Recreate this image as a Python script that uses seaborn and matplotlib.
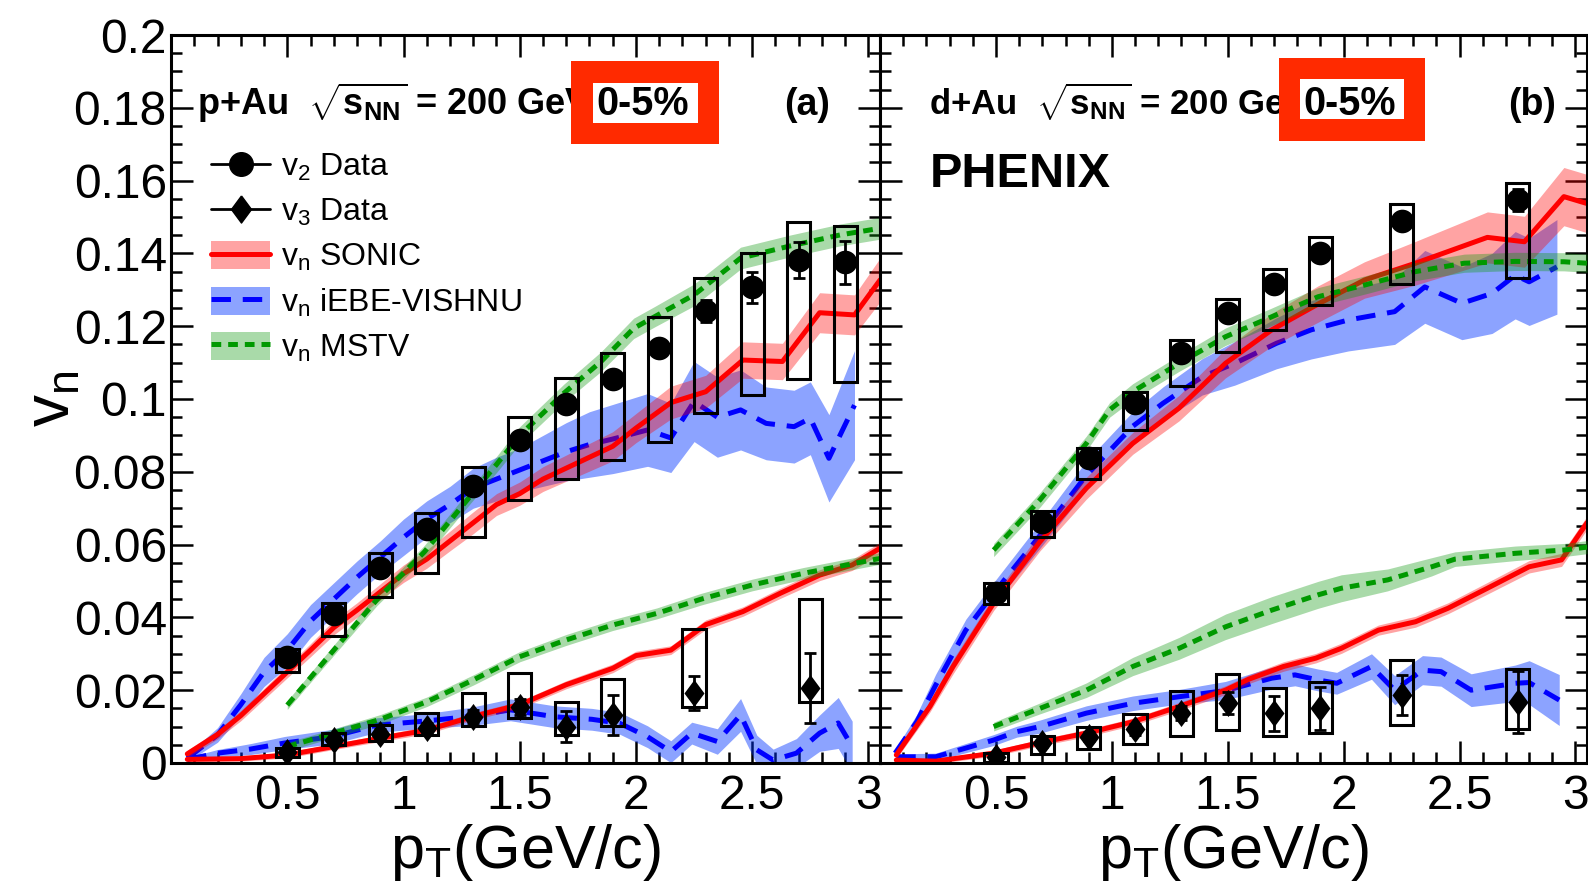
import numpy as np
import matplotlib
matplotlib.use("Agg")
import matplotlib.pyplot as plt
from matplotlib.patches import Patch, Rectangle
from matplotlib.lines import Line2D
from matplotlib.ticker import MultipleLocator, FuncFormatter
import seaborn as sns

# ---------------- p+Au 0-5% : PHENIX data ----------------
pau_v2_pt = [0.5, 0.7, 0.9, 1.1, 1.3, 1.5, 1.7, 1.9, 2.1, 2.3, 2.5, 2.7, 2.9]
pau_v2 = [0.0290, 0.0408, 0.0537, 0.0642, 0.0761, 0.0887, 0.0986, 0.1054, 0.1139, 0.1242, 0.1307, 0.1382, 0.1375]
pau_v2_stat = [0.0005, 0.0006, 0.0007, 0.0008, 0.0010, 0.0012, 0.0015, 0.0018, 0.0022, 0.0030, 0.0043, 0.0050, 0.0060]
pau_v2_sys_lo = [0.0250, 0.0349, 0.0456, 0.0523, 0.0621, 0.0722, 0.0780, 0.0832, 0.0881, 0.0961, 0.1011, 0.1054, 0.1048]
pau_v2_sys_hi = [0.0313, 0.0440, 0.0577, 0.0688, 0.0814, 0.0950, 0.1057, 0.1127, 0.1224, 0.1332, 0.1402, 0.1485, 0.1476]

pau_v3_pt = [0.5, 0.7, 0.9, 1.1, 1.3, 1.5, 1.7, 1.9, 2.25, 2.75]
pau_v3 = [0.0029, 0.0063, 0.0080, 0.0097, 0.0127, 0.0155, 0.0100, 0.0132, 0.0193, 0.0207]
pau_v3_stat = [0.0008, 0.0010, 0.0012, 0.0014, 0.0018, 0.0022, 0.0043, 0.0054, 0.0047, 0.0096]
pau_v3_sys_lo = [0.0017, 0.0049, 0.0060, 0.0077, 0.0102, 0.0123, 0.0077, 0.0102, 0.0153, 0.0167]
pau_v3_sys_hi = [0.0040, 0.0082, 0.0104, 0.0137, 0.0193, 0.0248, 0.0167, 0.0231, 0.0367, 0.0450]

# ---------------- p+Au 0-5% : model curves (value, band half-width) ----------------
pau_sonic_v2_pt = [0.07, 0.2, 0.3, 0.4, 0.5, 0.6, 0.7, 0.8, 0.9, 1.0, 1.1, 1.2, 1.3, 1.4, 1.5, 1.6, 1.7, 1.8, 1.9, 2.0, 2.15, 2.3, 2.46, 2.63, 2.79, 2.94, 3.05]
pau_sonic_v2 = [0.0025, 0.0078, 0.013, 0.019, 0.025, 0.031, 0.0372, 0.042, 0.047, 0.052, 0.056, 0.061, 0.066, 0.071, 0.074, 0.078, 0.081, 0.084, 0.087, 0.092, 0.099, 0.102, 0.1107, 0.1103, 0.1237, 0.1231, 0.1327]
pau_sonic_v2_err = [0.001, 0.0012, 0.0014, 0.0015, 0.0016, 0.0018, 0.002, 0.002, 0.0022, 0.0024, 0.0025, 0.0027, 0.003, 0.003, 0.0032, 0.0034, 0.0036, 0.0038, 0.004, 0.004, 0.0045, 0.0045, 0.005, 0.005, 0.0055, 0.0055, 0.006]

pau_vishnu_v2_pt = [0.07, 0.2, 0.3, 0.4, 0.5, 0.6, 0.7, 0.8, 0.9, 1.0, 1.1, 1.2, 1.3, 1.4, 1.5, 1.6, 1.7, 1.8, 1.9, 2.05, 2.15, 2.25, 2.35, 2.45, 2.56, 2.68, 2.75, 2.83, 2.94]
pau_vishnu_v2 = [0.0013, 0.0077, 0.016, 0.025, 0.031, 0.039, 0.045, 0.051, 0.0565, 0.062, 0.067, 0.071, 0.0755, 0.078, 0.0805, 0.083, 0.0855, 0.0875, 0.089, 0.0915, 0.0893, 0.0993, 0.095, 0.097, 0.0933, 0.0924, 0.0947, 0.0837, 0.0983]
pau_vishnu_v2_err = [0.001, 0.002, 0.003, 0.004, 0.0045, 0.0045, 0.0045, 0.0045, 0.0045, 0.005, 0.005, 0.005, 0.0055, 0.006, 0.006, 0.007, 0.008, 0.009, 0.0095, 0.010, 0.0095, 0.011, 0.011, 0.011, 0.010, 0.010, 0.010, 0.012, 0.015]

pau_mstv_v2_pt = [0.5, 0.7, 0.885, 1.09, 1.29, 1.4, 1.5, 1.69, 1.85, 1.99, 2.08, 2.25, 2.45, 2.66, 2.88, 3.05]
pau_mstv_v2 = [0.0159, 0.031, 0.0448, 0.058, 0.0735, 0.082, 0.090, 0.1016, 0.1103, 0.1194, 0.1226, 0.1286, 0.1387, 0.142, 0.1451, 0.1469]
pau_mstv_v2_err = [0.0012, 0.0014, 0.0016, 0.0018, 0.002, 0.0022, 0.0024, 0.0025, 0.0027, 0.0028, 0.0028, 0.003, 0.003, 0.003, 0.003, 0.003]

pau_sonic_v3_pt = [0.07, 0.3, 0.5, 0.7, 0.9, 1.1, 1.3, 1.5, 1.7, 1.9, 2.0, 2.15, 2.3, 2.46, 2.62, 2.79, 2.93, 3.05]
pau_sonic_v3 = [0.0010, 0.0012, 0.0022, 0.0045, 0.0068, 0.009, 0.0128, 0.016, 0.0215, 0.026, 0.0295, 0.031, 0.038, 0.0416, 0.0466, 0.0516, 0.0544, 0.059]
pau_sonic_v3_err = [0.0006, 0.0007, 0.0008, 0.0008, 0.0009, 0.001, 0.001, 0.001, 0.0011, 0.0012, 0.0012, 0.0012, 0.0013, 0.0013, 0.0014, 0.0015, 0.0015, 0.0016]

pau_vishnu_v3_pt = [0.07, 0.2, 0.34, 0.49, 0.69, 0.885, 1.09, 1.29, 1.46, 1.65, 1.81, 1.93, 2.05, 2.15, 2.24, 2.35, 2.45, 2.52, 2.59, 2.69, 2.79, 2.87, 2.93]
pau_vishnu_v3 = [0.0010, 0.0027, 0.0038, 0.0055, 0.0072, 0.0104, 0.0115, 0.0128, 0.0146, 0.0127, 0.012, 0.0109, 0.0072, 0.0031, 0.0082, 0.0059, 0.0132, 0.0036, 0.0008, 0.0027, 0.0082, 0.011, 0.0045]
pau_vishnu_v3_err = [0.0005, 0.001, 0.0015, 0.0018, 0.002, 0.002, 0.002, 0.0025, 0.003, 0.003, 0.003, 0.003, 0.003, 0.003, 0.003, 0.0035, 0.0045, 0.004, 0.003, 0.004, 0.005, 0.007, 0.007]

pau_mstv_v3_pt = [0.5, 0.7, 0.9, 1.1, 1.3, 1.5, 1.7, 1.9, 2.09, 2.28, 2.5, 2.72, 3.05]
pau_mstv_v3 = [0.0045, 0.0082, 0.012, 0.0168, 0.0228, 0.0292, 0.0338, 0.0379, 0.0411, 0.045, 0.0489, 0.0521, 0.0562]
pau_mstv_v3_err = [0.0012, 0.0012, 0.0013, 0.0013, 0.0014, 0.0014, 0.0015, 0.0015, 0.0015, 0.0016, 0.0016, 0.0016, 0.0016]

# ---------------- d+Au 0-5% : PHENIX data ----------------
dau_v2_pt = [0.5, 0.7, 0.9, 1.1, 1.3, 1.5, 1.7, 1.9, 2.25, 2.75]
dau_v2 = [0.0466, 0.0663, 0.0837, 0.0988, 0.1126, 0.1235, 0.1315, 0.1402, 0.1490, 0.1547]
dau_v2_stat = [0.0004, 0.0005, 0.0006, 0.0007, 0.0008, 0.0010, 0.0012, 0.0015, 0.0020, 0.0030]
dau_v2_sys_lo = [0.0437, 0.0622, 0.0779, 0.0915, 0.1036, 0.1128, 0.1190, 0.1258, 0.1315, 0.1333]
dau_v2_sys_hi = [0.0495, 0.0692, 0.0866, 0.1020, 0.1162, 0.1275, 0.1356, 0.1444, 0.1536, 0.1593]

dau_v3_pt = [0.5, 0.7, 0.9, 1.1, 1.3, 1.5, 1.7, 1.9, 2.25, 2.75]
dau_v3 = [0.0017, 0.0054, 0.0072, 0.0093, 0.0137, 0.0164, 0.0137, 0.0150, 0.0187, 0.0168]
dau_v3_stat = [0.0008, 0.0010, 0.0012, 0.0015, 0.0020, 0.0030, 0.0048, 0.0059, 0.0054, 0.0085]
dau_v3_sys_lo = [0.0004, 0.0025, 0.0038, 0.0052, 0.0074, 0.0091, 0.0074, 0.0082, 0.0104, 0.0093]
dau_v3_sys_hi = [0.0027, 0.0074, 0.0100, 0.0135, 0.0199, 0.0245, 0.0205, 0.0223, 0.0283, 0.0258]

# ---------------- d+Au 0-5% : model curves ----------------
dau_sonic_v2_pt = [0.07, 0.215, 0.315, 0.49, 0.69, 0.89, 1.09, 1.29, 1.49, 1.69, 1.89, 2.09, 2.31, 2.62, 2.78, 2.95, 3.05]
dau_sonic_v2 = [0.0022, 0.0155, 0.0265, 0.0439, 0.0608, 0.0755, 0.0878, 0.0975, 0.1098, 0.1190, 0.1261, 0.1327, 0.1373, 0.1444, 0.1432, 0.1556, 0.1537]
dau_sonic_v2_err = [0.001, 0.0015, 0.002, 0.002, 0.0025, 0.003, 0.003, 0.0035, 0.004, 0.0045, 0.005, 0.005, 0.006, 0.007, 0.007, 0.008, 0.008]

dau_vishnu_v2_pt = [0.065, 0.158, 0.24, 0.37, 0.49, 0.69, 0.89, 1.09, 1.22, 1.39, 1.53, 1.71, 1.86, 2.02, 2.22, 2.35, 2.51, 2.64, 2.74, 2.80, 2.92]
dau_vishnu_v2 = [0.0027, 0.0113, 0.0214, 0.0365, 0.0466, 0.0625, 0.0790, 0.0925, 0.0988, 0.1061, 0.1098, 0.1153, 0.1190, 0.1217, 0.1240, 0.1308, 0.1263, 0.1290, 0.1340, 0.1322, 0.1363]
dau_vishnu_v2_err = [0.001, 0.002, 0.003, 0.003, 0.003, 0.0035, 0.004, 0.004, 0.0045, 0.005, 0.006, 0.007, 0.008, 0.0085, 0.009, 0.010, 0.010, 0.011, 0.012, 0.012, 0.013]

dau_mstv_v2_pt = [0.49, 0.69, 0.89, 0.99, 1.09, 1.29, 1.49, 1.69, 1.89, 2.09, 2.31, 2.52, 2.74, 2.95, 3.05]
dau_mstv_v2 = [0.0585, 0.0723, 0.0878, 0.0970, 0.1020, 0.1098, 0.1171, 0.1226, 0.1281, 0.1313, 0.1350, 0.1373, 0.1378, 0.1377, 0.1373]
dau_mstv_v2_err = [0.0018, 0.002, 0.002, 0.002, 0.0022, 0.0022, 0.0024, 0.0024, 0.0025, 0.0025, 0.0025, 0.0025, 0.0025, 0.0025, 0.0025]

dau_sonic_v3_pt = [0.07, 0.24, 0.49, 0.69, 0.89, 1.09, 1.29, 1.49, 1.59, 1.74, 1.88, 1.99, 2.15, 2.31, 2.45, 2.62, 2.80, 2.94, 3.05]
dau_sonic_v3 = [0.0008, 0.0005, 0.0027, 0.0056, 0.0082, 0.0113, 0.0155, 0.0200, 0.0230, 0.0265, 0.0288, 0.0315, 0.0365, 0.0388, 0.0425, 0.0480, 0.0539, 0.0558, 0.0660]
dau_sonic_v3_err = [0.0006, 0.0007, 0.0008, 0.0009, 0.001, 0.001, 0.0011, 0.0012, 0.0012, 0.0013, 0.0013, 0.0014, 0.0014, 0.0015, 0.0015, 0.0016, 0.0017, 0.0018, 0.0018]

dau_vishnu_v3_pt = [0.07, 0.24, 0.49, 0.59, 0.69, 0.89, 1.09, 1.29, 1.49, 1.69, 1.79, 1.89, 1.97, 2.12, 2.22, 2.34, 2.42, 2.55, 2.74, 2.80, 2.93]
dau_vishnu_v3 = [0.0017, 0.0017, 0.0063, 0.0086, 0.0100, 0.0137, 0.0164, 0.0182, 0.0199, 0.0233, 0.0242, 0.0228, 0.0219, 0.0265, 0.0200, 0.0255, 0.0251, 0.0200, 0.0219, 0.0221, 0.0173]
dau_vishnu_v3_err = [0.0008, 0.001, 0.0015, 0.0015, 0.0018, 0.002, 0.002, 0.002, 0.0025, 0.003, 0.003, 0.003, 0.003, 0.0035, 0.004, 0.004, 0.004, 0.0045, 0.005, 0.006, 0.007]

dau_mstv_v3_pt = [0.49, 0.69, 0.89, 1.09, 1.29, 1.49, 1.69, 1.89, 1.99, 2.19, 2.38, 2.48, 2.74, 2.95, 3.05]
dau_mstv_v3 = [0.0100, 0.0150, 0.0200, 0.0265, 0.0315, 0.0374, 0.0420, 0.0462, 0.0480, 0.0503, 0.0539, 0.0560, 0.0576, 0.0585, 0.0593]
dau_mstv_v3_err = [0.0012, 0.0015, 0.002, 0.0025, 0.003, 0.0035, 0.0037, 0.0037, 0.0037, 0.003, 0.0025, 0.002, 0.002, 0.0018, 0.0018]

legend_labels = [r"$\mathrm{v_{2}}$ Data", r"$\mathrm{v_{3}}$ Data", r"$\mathrm{v_{n}}$ SONIC",
                 r"$\mathrm{v_{n}}$ iEBE-VISHNU", r"$\mathrm{v_{n}}$ MSTV"]

# ---------------- style ----------------
sns.set_theme(style="ticks")
plt.rcParams["font.family"] = ["Liberation Sans", "DejaVu Sans"]
plt.rcParams["mathtext.fontset"] = "custom"
plt.rcParams["mathtext.rm"] = "Liberation Sans"
plt.rcParams["mathtext.it"] = "Liberation Sans:italic"
plt.rcParams["mathtext.bf"] = "Liberation Sans:bold"
plt.rcParams["mathtext.sf"] = "Liberation Sans"
plt.rcParams["lines.scale_dashes"] = False
plt.rcParams["axes.edgecolor"] = "black"
plt.rcParams["xtick.color"] = "black"
plt.rcParams["ytick.color"] = "black"
plt.rcParams["text.color"] = "black"
plt.rcParams["axes.labelcolor"] = "black"

RED, BLUE, GREEN = "#ff0000", "#0000ff", "#009900"
RED_BAND, BLUE_BAND, GREEN_BAND = ("#ff0000", 0.36), ("#0033ff", 0.45), ("#119911", 0.36)
LW = 3.6
STY_SONIC = "-"
STY_VISHNU = (0, (14, 8.5))
STY_MSTV = (0, (7, 5))
DIAMOND = [(0, 1), (0.74, 0), (0, -1), (-0.74, 0), (0, 1)]

fig = plt.figure(figsize=(15.88, 8.93), dpi=100)
ax_a = fig.add_axes([0.1077, 0.1456, 0.4465, 0.8152])
ax_b = fig.add_axes([0.5542, 0.1456, 0.4452, 0.8152])


def model(ax, pt, val, err, color, band, style, z):
    pt = np.asarray(pt)
    val = np.asarray(val)
    err = np.asarray(err)
    ax.fill_between(pt, val - err, val + err, color=band[0], alpha=band[1], lw=0, zorder=z)
    sns.lineplot(x=pt, y=val, ax=ax, color=color, lw=LW, linestyle=style,
                 sort=False, estimator=None, zorder=z + 0.5)


def data(ax, pt, val, stat, lo, hi, marker, size):
    lo = np.asarray(lo)
    hi = np.asarray(hi)
    ax.bar(pt, hi - lo, bottom=lo, width=0.1, fill=False, edgecolor="black",
           linewidth=2.2, zorder=6)
    ax.errorbar(pt, val, yerr=stat, fmt="none", ecolor="black", elinewidth=2.0,
                capsize=4, capthick=2.0, zorder=7)
    sns.scatterplot(x=pt, y=val, ax=ax, marker=marker, s=size, color="black",
                    edgecolor="black", linewidth=0, zorder=8)


def panel(ax, d):
    model(ax, d["sonic_v2_pt"], d["sonic_v2"], d["sonic_v2_err"], RED, RED_BAND, STY_SONIC, 2)
    model(ax, d["sonic_v3_pt"], d["sonic_v3"], d["sonic_v3_err"], RED, RED_BAND, STY_SONIC, 2)
    model(ax, d["vishnu_v2_pt"], d["vishnu_v2"], d["vishnu_v2_err"], BLUE, BLUE_BAND, STY_VISHNU, 1)
    model(ax, d["vishnu_v3_pt"], d["vishnu_v3"], d["vishnu_v3_err"], BLUE, BLUE_BAND, STY_VISHNU, 1)
    model(ax, d["mstv_v2_pt"], d["mstv_v2"], d["mstv_v2_err"], GREEN, GREEN_BAND, STY_MSTV, 3)
    model(ax, d["mstv_v3_pt"], d["mstv_v3"], d["mstv_v3_err"], GREEN, GREEN_BAND, STY_MSTV, 3)
    data(ax, d["v2_pt"], d["v2"], d["v2_stat"], d["v2_lo"], d["v2_hi"], "o", 290)
    data(ax, d["v3_pt"], d["v3"], d["v3_stat"], d["v3_lo"], d["v3_hi"], DIAMOND, 380)

    ax.set_xlim(0, 3.05)
    ax.set_ylim(0, 0.2)
    ax.xaxis.set_major_locator(MultipleLocator(0.5))
    ax.xaxis.set_minor_locator(MultipleLocator(0.1))
    ax.yaxis.set_major_locator(MultipleLocator(0.02))
    ax.yaxis.set_minor_locator(MultipleLocator(0.005))
    ax.xaxis.set_major_formatter(FuncFormatter(lambda v, p: "" if abs(v) < 1e-9 else f"{v:g}"))
    ax.yaxis.set_major_formatter(FuncFormatter(lambda v, p: f"{v:.2f}".rstrip("0").rstrip(".") if v > 1e-9 else "0"))
    ax.tick_params(which="both", direction="in", top=True, right=True, width=1.8,
                   labelsize=34.5, pad=8)
    ax.tick_params(which="major", length=16)
    ax.tick_params(which="minor", length=8)
    ax.tick_params(axis="y", pad=3)
    for s in ax.spines.values():
        s.set_linewidth(2.2)
        s.set_color("black")
    ax.set_xlabel(r"p$_{\mathrm{T}}$(GeV/c)", fontsize=44, labelpad=2)
    ax.set_ylabel("")


pau = dict(v2_pt=pau_v2_pt, v2=pau_v2, v2_stat=pau_v2_stat, v2_lo=pau_v2_sys_lo, v2_hi=pau_v2_sys_hi,
           v3_pt=pau_v3_pt, v3=pau_v3, v3_stat=pau_v3_stat, v3_lo=pau_v3_sys_lo, v3_hi=pau_v3_sys_hi,
           sonic_v2_pt=pau_sonic_v2_pt, sonic_v2=pau_sonic_v2, sonic_v2_err=pau_sonic_v2_err,
           sonic_v3_pt=pau_sonic_v3_pt, sonic_v3=pau_sonic_v3, sonic_v3_err=pau_sonic_v3_err,
           vishnu_v2_pt=pau_vishnu_v2_pt, vishnu_v2=pau_vishnu_v2, vishnu_v2_err=pau_vishnu_v2_err,
           vishnu_v3_pt=pau_vishnu_v3_pt, vishnu_v3=pau_vishnu_v3, vishnu_v3_err=pau_vishnu_v3_err,
           mstv_v2_pt=pau_mstv_v2_pt, mstv_v2=pau_mstv_v2, mstv_v2_err=pau_mstv_v2_err,
           mstv_v3_pt=pau_mstv_v3_pt, mstv_v3=pau_mstv_v3, mstv_v3_err=pau_mstv_v3_err)
dau = dict(v2_pt=dau_v2_pt, v2=dau_v2, v2_stat=dau_v2_stat, v2_lo=dau_v2_sys_lo, v2_hi=dau_v2_sys_hi,
           v3_pt=dau_v3_pt, v3=dau_v3, v3_stat=dau_v3_stat, v3_lo=dau_v3_sys_lo, v3_hi=dau_v3_sys_hi,
           sonic_v2_pt=dau_sonic_v2_pt, sonic_v2=dau_sonic_v2, sonic_v2_err=dau_sonic_v2_err,
           sonic_v3_pt=dau_sonic_v3_pt, sonic_v3=dau_sonic_v3, sonic_v3_err=dau_sonic_v3_err,
           vishnu_v2_pt=dau_vishnu_v2_pt, vishnu_v2=dau_vishnu_v2, vishnu_v2_err=dau_vishnu_v2_err,
           vishnu_v3_pt=dau_vishnu_v3_pt, vishnu_v3=dau_vishnu_v3, vishnu_v3_err=dau_vishnu_v3_err,
           mstv_v2_pt=dau_mstv_v2_pt, mstv_v2=dau_mstv_v2, mstv_v2_err=dau_mstv_v2_err,
           mstv_v3_pt=dau_mstv_v3_pt, mstv_v3=dau_mstv_v3, mstv_v3_err=dau_mstv_v3_err)

panel(ax_a, pau)
panel(ax_b, dau)
ax_b.tick_params(axis="y", labelleft=False)

ax_a.set_ylabel(r"v$_{\mathrm{n}}$", fontsize=46)
ax_a.yaxis.set_label_coords(-0.124, 0.5)


def header(ax, system, tag, box_x, box_y, inner_x, inner_y, text_x, tag_x, size):
    ax.text(text_x, 0.890, system + r"  $\sqrt{\mathbf{s}_{\mathbf{NN}}}$ = 200 GeV",
            transform=ax.transAxes, fontsize=size, fontweight="bold", ha="left",
            va="baseline", zorder=10)
    ax.add_patch(Rectangle((box_x[0], box_y[0]), box_x[1] - box_x[0], box_y[1] - box_y[0],
                           transform=ax.transAxes, facecolor="#ff2a00", edgecolor="none",
                           zorder=11, clip_on=False))
    ax.add_patch(Rectangle((inner_x[0], inner_y[0]), inner_x[1] - inner_x[0], inner_y[1] - inner_y[0],
                           transform=ax.transAxes, facecolor="white", edgecolor="none",
                           zorder=12, clip_on=False))
    ax.text((inner_x[0] + inner_x[1]) / 2 - 0.004, 0.890, "0-5%", transform=ax.transAxes,
            fontsize=28.5, fontweight="bold", ha="center", va="baseline", zorder=13)
    ax.text(tag_x, 0.890, tag, transform=ax.transAxes, fontsize=27, fontweight="bold",
            ha="center", va="baseline", zorder=10)


header(ax_a, "p+Au", "(a)", (0.564, 0.773), (0.8503, 0.9643), (0.595, 0.743), (0.879, 0.934), 0.0367, 0.897, 26)
header(ax_b, "d+Au", "(b)", (0.5636, 0.7712), (0.8544, 0.9684), (0.5946, 0.7415), (0.8846, 0.9396), 0.0692, 0.922, 25)
ax_b.text(0.0706, 0.791, "PHENIX", transform=ax_b.transAxes, fontsize=35,
          fontweight="bold", ha="left", va="baseline", zorder=10)

# legend: data markers with a short line, model bands with their line on top
h_v2 = Line2D([], [], color="black", lw=2.0, marker="o", markersize=17)
h_v3 = Line2D([], [], color="black", lw=2.0, marker=DIAMOND, markersize=19.5)
h_sonic = (Patch(facecolor=RED_BAND[0], alpha=RED_BAND[1], lw=0), Line2D([], [], color=RED, lw=LW))
h_vishnu = (Patch(facecolor=BLUE_BAND[0], alpha=BLUE_BAND[1], lw=0),
            Line2D([], [], color=BLUE, lw=LW, linestyle=STY_VISHNU))
h_mstv = (Patch(facecolor=GREEN_BAND[0], alpha=GREEN_BAND[1], lw=0),
          Line2D([], [], color=GREEN, lw=LW, linestyle=STY_MSTV))
leg = ax_a.legend([h_v2, h_v3, h_sonic, h_vishnu, h_mstv], legend_labels,
                  loc="upper left", bbox_to_anchor=(0.0564, 0.8405), frameon=False,
                  fontsize=23, handlelength=1.85, handleheight=0.97, handletextpad=0.35,
                  labelspacing=0.41, borderpad=0, borderaxespad=0)
leg.set_zorder(20)

fig.savefig("out.png", dpi=100)
